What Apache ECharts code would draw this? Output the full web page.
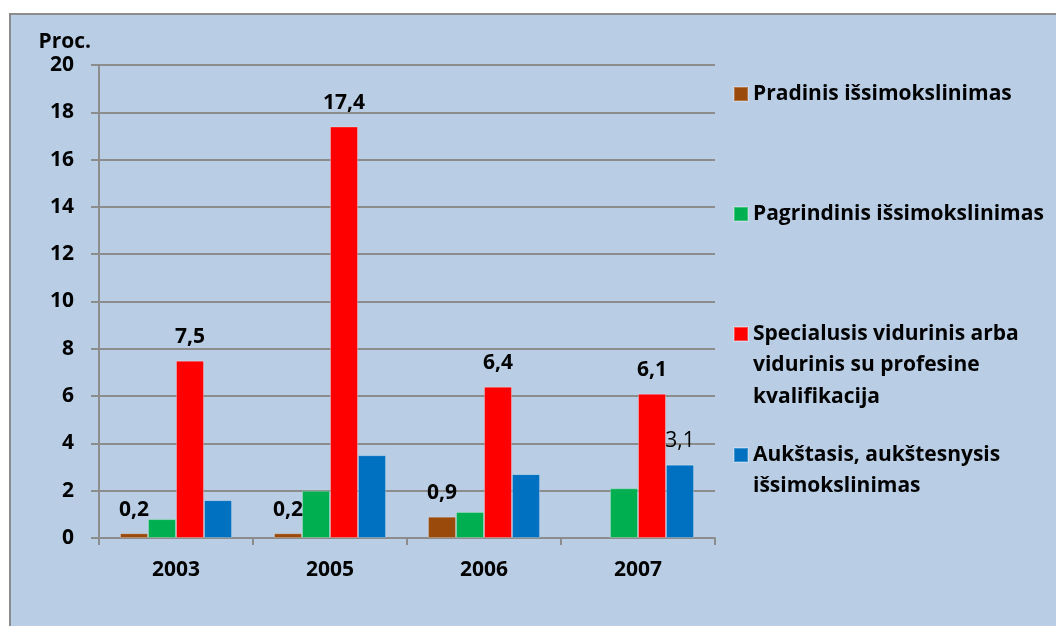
<!DOCTYPE html>
<html>
<head>
<meta charset="utf-8">
<script src="https://cdn.jsdelivr.net/npm/echarts@6/dist/echarts.min.js"></script>
<style>html,body{margin:0;padding:0;background:#fff}#c{width:1056px;height:626px}</style>
</head>
<body>
<div id="c"></div>
<script>
const categories = ['2003', '2005', '2006', '2007'];
const seriesNames = [
  'Pradinis išsimokslinimas',
  'Pagrindinis išsimokslinimas',
  'Specialusis vidurinis arba\nvidurinis su profesine\nkvalifikacija',
  'Aukštasis, aukštesnysis\nišsimokslinimas'
];
const pradinis = [0.2, 0.2, 0.9, null];
const pagrindinis = [0.8, 2.0, 1.1, 2.1];
const specialusis = [7.5, 17.4, 6.4, 6.1];
const aukstasis = [1.6, 3.5, 2.7, 3.1];
const yTicks = [0, 2, 4, 6, 8, 10, 12, 14, 16, 18, 20];

const FONT = 'Open Sans';
const FS = 21;
const LH = 31.5;
const colors = ['#9A4A0B', '#00B050', '#FF0000', '#0070C0'];
const fmt = v => String(v).replace('.', ',');

const chart = echarts.init(document.getElementById('c'), null, {renderer: 'canvas'});

const labelBase = {show: true, position: 'top', distance: 13, color: '#000', fontFamily: FONT, fontSize: FS, fontWeight: 'bold'};

function legendFor(i, iconY) {
  const lines = seriesNames[i].split('\n').length;
  const blockH = LH * (2 * lines - 1);
  return {
    data: [seriesNames[i]], left: 733, top: iconY - blockH / 2, orient: 'vertical', padding: 0,
    itemWidth: 14, itemHeight: 14, icon: 'rect', selectedMode: false,
    formatter: n => '\n'.repeat(lines - 1) + n,
    textStyle: {fontFamily: FONT, fontSize: FS, fontWeight: 'bold', color: '#000', lineHeight: LH}
  };
}

chart.setOption({
  animation: false,
  backgroundColor: '#fff',
  graphic: [{
    type: 'rect', z: -10, silent: true,
    shape: {x: 10, y: 14, width: 1100, height: 700},
    style: {fill: '#B9CDE5', stroke: '#8C8C8C', lineWidth: 2}
  }],
  grid: {left: 99, right: 341, top: 65, bottom: 88, containLabel: false},
  legend: [
    legendFor(0, 94),
    legendFor(1, 214),
    legendFor(2, 334),
    legendFor(3, 455)
  ],
  xAxis: {
    type: 'category', data: categories,
    axisLine: {lineStyle: {color: '#8C8C8C', width: 2}},
    axisTick: {show: true, length: 7, lineStyle: {color: '#8C8C8C', width: 2}},
    axisLabel: {color: '#000', fontFamily: FONT, fontSize: FS, fontWeight: 'bold', margin: 22}
  },
  yAxis: {
    type: 'value', min: yTicks[0], max: yTicks[yTicks.length - 1], interval: yTicks[1] - yTicks[0],
    name: 'Proc.', nameLocation: 'end', nameGap: 12,
    nameTextStyle: {color: '#000', fontFamily: FONT, fontSize: FS, fontWeight: 'bold', align: 'right', padding: [0, 8, 0, 0]},
    axisLine: {show: true, lineStyle: {color: '#8C8C8C', width: 2}},
    axisTick: {show: true, inside: false, length: 8, lineStyle: {color: '#8C8C8C', width: 2}},
    axisLabel: {color: '#000', fontFamily: FONT, fontSize: FS, fontWeight: 'bold', margin: 25},
    splitLine: {show: true, lineStyle: {color: '#8C8C8C', width: 2}}
  },
  series: [
    {name: seriesNames[0], type: 'bar', data: pradinis, barWidth: 28, barGap: '0%',
      itemStyle: {color: colors[0], borderColor: 'rgba(255,255,255,0.25)', borderWidth: 1},
      label: Object.assign({}, labelBase, {formatter: p => p.value == null ? '' : fmt(p.value)})},
    {name: seriesNames[1], type: 'bar', data: pagrindinis, barWidth: 28, barGap: '0%',
      itemStyle: {color: colors[1], borderColor: 'rgba(255,255,255,0.25)', borderWidth: 1}},
    {name: seriesNames[2], type: 'bar', data: specialusis, barWidth: 28, barGap: '0%',
      itemStyle: {color: colors[2], borderColor: 'rgba(255,255,255,0.3)', borderWidth: 1},
      label: Object.assign({}, labelBase, {formatter: p => fmt(p.value)})},
    {name: seriesNames[3], type: 'bar', data: aukstasis, barWidth: 28, barGap: '0%',
      itemStyle: {color: colors[3], borderColor: 'rgba(255,255,255,0.25)', borderWidth: 1},
      label: Object.assign({}, labelBase, {fontWeight: 'normal',
        formatter: p => p.dataIndex === categories.length - 1 ? fmt(p.value) : ''})}
  ]
});
</script>
</body>
</html>
